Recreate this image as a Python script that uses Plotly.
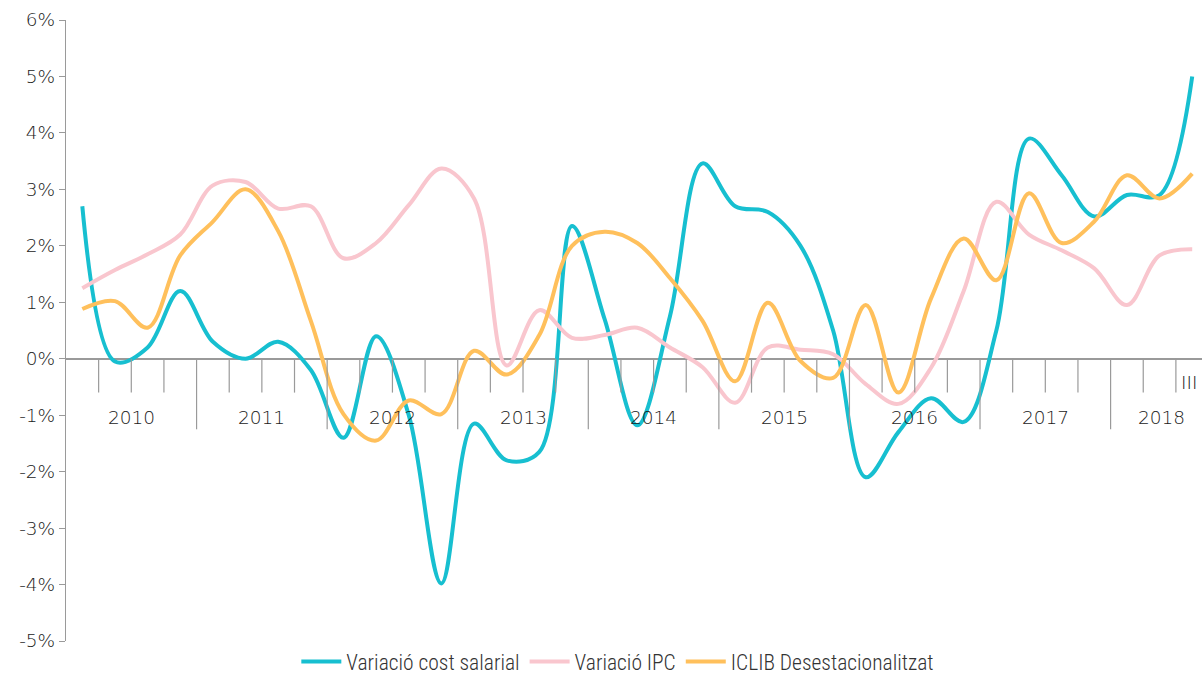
import plotly.graph_objects as go

years = ["2010", "2011", "2012", "2013", "2014", "2015", "2016", "2017", "2018"]
quarters_per_year = [4, 4, 4, 4, 4, 4, 4, 4, 3]
last_quarter_label = "III"

cost_salarial = [2.7, -0.05, 0.2, 1.2, 0.3, 0.0, 0.3, -0.2, -1.4, 0.4, -1.0, -3.98,
                 -1.15, -1.8, -1.65, 2.35, 0.7, -1.18, 0.75, 3.46, 2.7, 2.6, 2.0, 0.5,
                 -2.1, -1.3, -0.7, -1.12, 0.5, 3.9, 3.25, 2.52, 2.9, 2.9, 5.0]
ipc = [1.25, 1.57, 1.85, 2.2, 3.07, 3.13, 2.66, 2.7, 1.78, 2.05, 2.72, 3.37,
       2.84, -0.12, 0.86, 0.37, 0.42, 0.55, 0.2, -0.15, -0.78, 0.2, 0.16, 0.08,
       -0.45, -0.8, -0.16, 1.2, 2.78, 2.2, 1.92, 1.6, 0.95, 1.83, 1.94]
iclib = [0.88, 1.02, 0.55, 1.83, 2.43, 3.0, 2.26, 0.67, -0.98, -1.45, -0.74, -0.98,
         0.14, -0.28, 0.42, 2.0, 2.25, 2.05, 1.43, 0.67, -0.4, 0.99, -0.04, -0.34,
         0.95, -0.6, 1.07, 2.13, 1.39, 2.93, 2.05, 2.43, 3.25, 2.84, 3.28]

y_ticks = [-5, -4, -3, -2, -1, 0, 1, 2, 3, 4, 5, 6]
y_ticklabels = [f"{v}%" for v in y_ticks]

n = len(cost_salarial)
x = list(range(n))

series = [
    ("Variació cost salarial", cost_salarial, "#17BFD0"),
    ("Variació IPC", ipc, "#F9C6CE"),
    ("ICLIB Desestacionalitzat", iclib, "#FFC05C"),
]

label_font = dict(family="DejaVu Sans", size=18.5, color="#1a1a1a", weight=300)

fig = go.Figure()
for name, vals, color in series:
    fig.add_trace(go.Scatter(
        x=x, y=vals, name=name, mode="lines",
        line=dict(color=color, width=4, shape="spline", smoothing=1),
    ))

axis_gray = "#9a9a9a"
shapes = []
annotations = []
start = 0
for yr, nq in zip(years, quarters_per_year):
    for k in range(1, nq):
        xb = start + k - 0.5
        shapes.append(dict(type="line", xref="x", yref="y", x0=xb, x1=xb, y0=0, y1=-0.6,
                           line=dict(color=axis_gray, width=1.2)))
    end = start + nq
    if end < n:
        xb = end - 0.5
        shapes.append(dict(type="line", xref="x", yref="y", x0=xb, x1=xb, y0=0, y1=-1.25,
                           line=dict(color=axis_gray, width=1.2)))
        center = (start - 0.5 + end - 0.5) / 2
    else:
        center = (start - 0.5 + n - 0.5) / 2 + 0.05
    annotations.append(dict(x=center, y=-1.04, xref="x", yref="y", text=yr, showarrow=False,
                            font=label_font))
    start = end

annotations.append(dict(x=n - 1 + 0.2, y=-0.42, xref="x", yref="y", text=last_quarter_label,
                        xanchor="right", showarrow=False, font=label_font))

fig.update_layout(
    width=1202, height=682,
    margin=dict(l=66, r=0, t=20, b=38),
    plot_bgcolor="white", paper_bgcolor="white",
    font=dict(family="DejaVu Sans", color="#1a1a1a"),
    shapes=shapes, annotations=annotations,
    showlegend=True,
    legend=dict(orientation="h", x=0.514, xanchor="center", xref="container",
                y=-0.012, yanchor="bottom", yref="container",
                font=dict(family="Liberation Sans Narrow, Roboto Condensed, Roboto", size=21.5,
                          color="#333333", weight=300),
                itemwidth=40, tracegroupgap=0),
    xaxis=dict(range=[-0.5, 34.3], showticklabels=False, showgrid=False, ticks="",
               showline=False, zeroline=False, automargin=False),
    yaxis=dict(range=[-5, 6], tickvals=y_ticks, ticktext=y_ticklabels, showgrid=False,
               zeroline=True, zerolinecolor=axis_gray, zerolinewidth=1.5,
               showline=True, linecolor=axis_gray, linewidth=1.2,
               ticks="outside", ticklen=6, tickcolor=axis_gray, automargin=False,
               tickfont=label_font),
)

# remove the default page margin so the 1202x682 figure fills the window exactly
fig.write_html("out.html",
               config={"displayModeBar": False},
               post_script="document.body.style.margin='0';document.body.style.overflow='hidden';")
